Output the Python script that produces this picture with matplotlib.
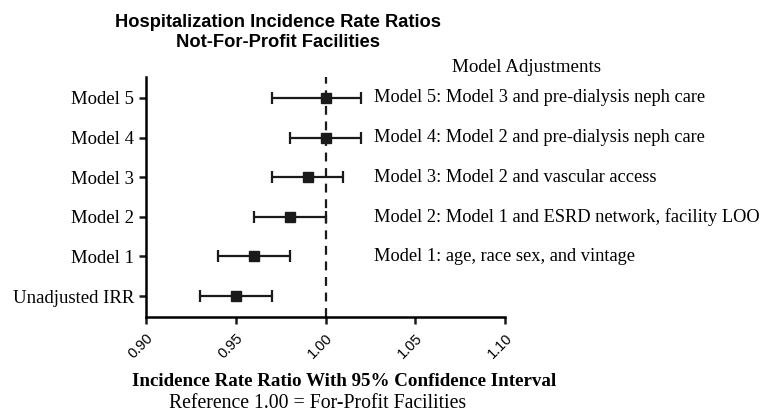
import matplotlib.pyplot as plt
import matplotlib.transforms as mtransforms

labels = ['Unadjusted IRR', 'Model 1', 'Model 2', 'Model 3', 'Model 4', 'Model 5']
irr = [0.95, 0.96, 0.98, 0.99, 1.00, 1.00]
ci_low = [0.93, 0.94, 0.96, 0.97, 0.98, 0.97]
ci_high = [0.97, 0.98, 1.00, 1.01, 1.02, 1.02]
adjustments = ['', 'Model 1: age, race sex, and vintage',
               'Model 2: Model 1 and ESRD network, facility LOO',
               'Model 3: Model 2 and vascular access',
               'Model 4: Model 2 and pre-dialysis neph care',
               'Model 5: Model 3 and pre-dialysis neph care']
xticks = [0.90, 0.95, 1.00, 1.05, 1.10]

W, H = 771, 418
fig = plt.figure(figsize=(W / 100, H / 100), dpi=100)
ax = fig.add_axes([146 / W, (H - 317) / H, (505 - 146) / W, (317 - 77) / H])

ypos = list(range(len(labels)))
err_lo = [v - l for v, l in zip(irr, ci_low)]
err_hi = [h - v for v, h in zip(irr, ci_high)]
ax.errorbar(irr, ypos, xerr=[err_lo, err_hi], fmt='s', color='#1a1a1a',
            markersize=7.5, elinewidth=1.6, capsize=4, capthick=1.6)
ax.axvline(1.0, color='#1a1a1a', linestyle=(0, (4, 3)), linewidth=1.6, zorder=0)

ax.set_xlim(0.90, 1.10)
ax.set_ylim(-0.53, 5.53)
ax.set_xticks(xticks)
ax.set_xticklabels([f'{t:.2f}' for t in xticks], rotation=45, ha='right',
                   rotation_mode='anchor', family='Liberation Sans', fontsize=10.5)
ax.set_yticks(ypos)
ax.set_yticklabels(labels, family='Liberation Serif', fontsize=13.5)
for s in ['top', 'right']:
    ax.spines[s].set_visible(False)
for s in ['left', 'bottom']:
    ax.spines[s].set_linewidth(1.8)
ax.tick_params(width=1.8, length=5, color='#1a1a1a')
ax.tick_params(axis='x', pad=5)

trans = mtransforms.blended_transform_factory(fig.transFigure, ax.transData)
for y, txt in zip(ypos, adjustments):
    if txt:
        fig.text(374 / W, y, txt, transform=trans, va='center', ha='left',
                 family='Liberation Serif', fontsize=13.2)

fig.text(452 / W, 1 - 67 / H, 'Model Adjustments', va='center', ha='left',
         family='Liberation Serif', fontsize=13.7)
fig.text(278 / W, 1 - 32.5 / H, 'Hospitalization Incidence Rate Ratios\nNot-For-Profit Facilities',
         ha='center', va='center', family='Liberation Sans', fontweight='bold',
         fontsize=13.2, linespacing=1.17)
fig.text(344 / W, 1 - 382 / H, 'Incidence Rate Ratio With 95% Confidence Interval',
         ha='center', va='center', family='Liberation Serif', fontweight='bold', fontsize=13.7)
fig.text(318 / W, 1 - 403 / H, 'Reference 1.00 = For-Profit Facilities',
         ha='center', va='center', family='Liberation Serif', fontsize=14.2)

fig.savefig('out.png', dpi=100)
